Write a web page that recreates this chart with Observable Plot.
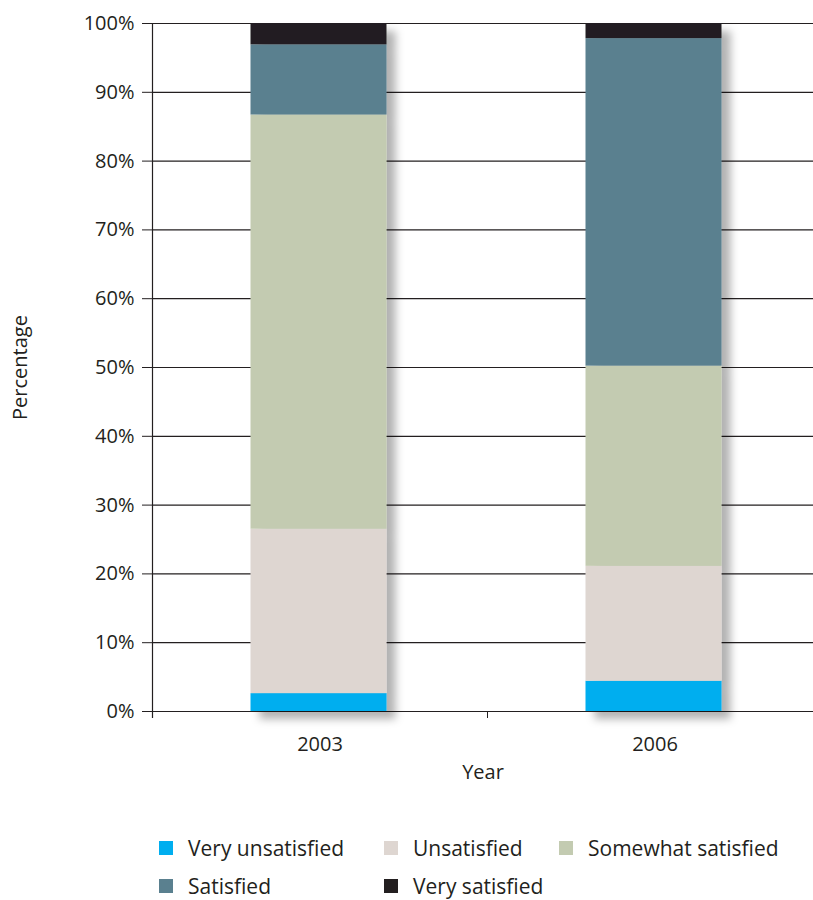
<!DOCTYPE html>
<html>
<head>
<meta charset="utf-8">
<script src="https://cdn.jsdelivr.net/npm/d3@7"></script>
<script src="https://cdn.jsdelivr.net/npm/@observablehq/plot@0.6"></script>
<style>
  body { margin: 0; background: #fff; font-family: "Open Sans", sans-serif; color: #231f20; }
  #legend { display: grid; grid-template-columns: 225px 175px auto; row-gap: 10px; padding-left: 159px; margin-top: 34px; font-size: 21px; }
  .item { display: flex; align-items: center; }
  .sw { width: 14px; height: 14px; margin-right: 15px; flex: none; }
</style>
</head>
<body>
<div id="chart"></div>
<div id="legend"></div>
<script>
const years = ["2003", "2006"];
const categories = ["Very unsatisfied", "Unsatisfied", "Somewhat satisfied", "Satisfied", "Very satisfied"];
const colors = ["#00aeef", "#ded6d1", "#c3cbb1", "#5a808f", "#231f20"];
const values2003 = [2.6, 23.9, 60.2, 10.2, 3.1];
const values2006 = [4.4, 16.7, 29.1, 47.6, 2.2];
const yTicks = [0, 10, 20, 30, 40, 50, 60, 70, 80, 90, 100];

const seriesByYear = [values2003, values2006];
const data = [];
years.forEach((yr, i) => {
  categories.forEach((c, j) => data.push({year: yr, idx: i, category: c, value: seriesByYear[i][j]}));
});

const ink = "#231f20";
const plot = Plot.plot({
  width: 813,
  height: 800,
  marginTop: 23,
  marginBottom: 89,
  marginLeft: 152,
  marginRight: 0,
  style: {fontFamily: "Open Sans, sans-serif", fontSize: "20px", color: ink, background: "white"},
  x: {domain: [0, years.length], range: [152, 822]},
  y: {domain: [0, 100]},
  color: {domain: categories, range: colors},
  marks: [
    Plot.ruleY(yTicks, {stroke: ink, strokeWidth: 1.2}),
    Plot.rectY(data, {x1: "idx", x2: d => d.idx + 1, y: "value", fill: "category", insetLeft: 98.5, insetRight: 100.5, order: categories}),
    Plot.ruleX([0], {stroke: ink, strokeWidth: 1.2, insetBottom: -7}),
    Plot.axisY({ticks: yTicks, tickSize: 10, tickPadding: 8, tickFormat: d => d + "%", label: "Percentage", labelArrow: "none", labelAnchor: "center", labelOffset: 140, stroke: ink, fill: ink, fontSize: 20}),
    Plot.axisX({ticks: d3.range(years.length + 1), tickSize: 7, tickFormat: () => "", label: null, stroke: ink}),
    Plot.axisX({ticks: years.map((y, i) => i + 0.5), tickSize: 0, tickPadding: 25, tickFormat: i => years[Math.floor(i)], label: "Year", labelArrow: "none", labelAnchor: "center", labelOffset: 67, fill: ink, fontSize: 20})
  ]
});

const svg = d3.select(plot);
const defs = svg.insert("defs", ":first-child");
const f = defs.append("filter").attr("id", "shadow").attr("x", "-10%").attr("y", "-10%").attr("width", "130%").attr("height", "130%");
f.append("feDropShadow").attr("dx", 9).attr("dy", 8).attr("stdDeviation", 4).attr("flood-color", "#000").attr("flood-opacity", 0.3);
svg.selectAll("g[aria-label='rect']").attr("filter", "url(#shadow)");
document.getElementById("chart").appendChild(plot);

const legend = d3.select("#legend");
categories.forEach((c, i) => {
  const it = legend.append("div").attr("class", "item");
  it.append("div").attr("class", "sw").style("background", colors[i]);
  it.append("span").text(c);
});
</script>
</body>
</html>
